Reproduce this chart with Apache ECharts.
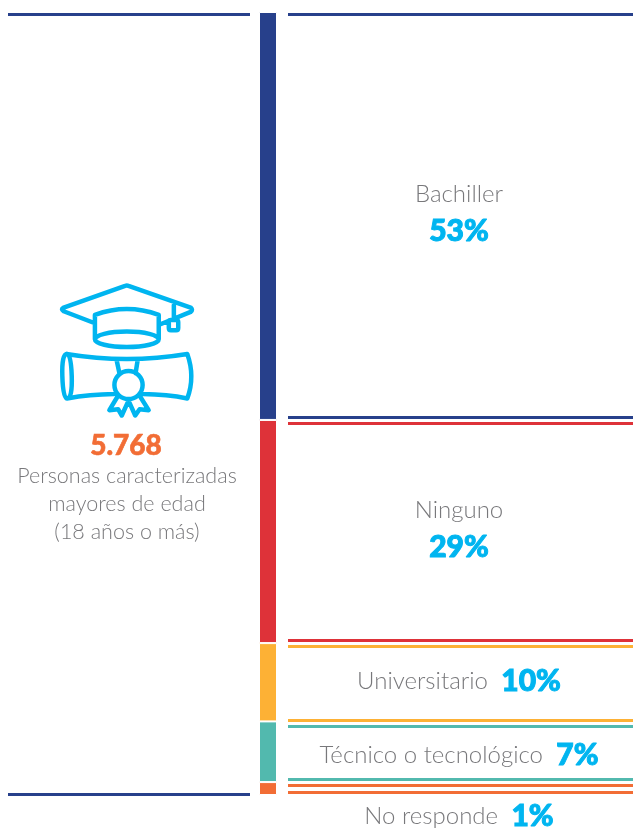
<!DOCTYPE html>
<html>
<head>
<meta charset="utf-8">
<style>
  html, body { margin: 0; padding: 0; background: #fff; }
  #chart { width: 633px; height: 831px; }
</style>
<script src="https://cdn.jsdelivr.net/npm/echarts@6/dist/echarts.min.js"></script>
</head>
<body>
<div id="chart"></div>
<script>
const categories = ['Bachiller', 'Ninguno', 'Universitario', 'Técnico o tecnológico', 'No responde'];
const percents = [53, 29, 10, 7, 1];
// bar lengths as measured on the picture, they differ a little from the printed %
const barLengths = [52.1, 28.5, 10, 7.75, 1.65];
const colors = ['#27408b', '#de3239', '#fdb135', '#52b9ae', '#f26d35'];
const totalLabel = '5.768';
const totalText = ['Personas caracterizadas', 'mayores de edad', '(18 años o más)'];

const CYAN = '#00b5f0';
const GREY = '#78787b';
const FONT = 'Lato';

// start/end of each segment on the stack
const segments = [];
barLengths.reduce((sum, len) => {
  segments.push([sum, sum + len]);
  return sum + len;
}, 0);

const chart = echarts.init(document.getElementById('chart'), null, {renderer: 'canvas'});

const barSeries = categories.map((name, i) => ({
  name,
  type: 'bar',
  stack: 'total',
  barWidth: 18,
  xAxisIndex: 0,
  yAxisIndex: 0,
  itemStyle: {color: colors[i], borderColor: '#fff', borderWidth: 1},
  data: [barLengths[i]],
  silent: true
}));

// a few rules are not quite where the others sit relative to the bar: [top, bottom] in px
const ruleNudge = [[-1, 0], [0, 0], [0, 2], [2, 0], [0, 0]];

// rules on the right, at the two ends of each segment
const ruleSeries = {
  type: 'custom',
  xAxisIndex: 1,
  yAxisIndex: 1,
  silent: true,
  data: segments.map((s, i) => [s[0], s[1], i]),
  renderItem: (params, api) => {
    const idx = api.value(2);
    const top = api.coord([0, api.value(0)])[1];
    const bottom = api.coord([0, api.value(1)])[1];
    const rule = y => ({type: 'rect', shape: {x: 288, y: Math.round(y), width: 345, height: 3}, style: {fill: colors[idx]}});
    return {type: 'group', children: [rule(top + 2 + ruleNudge[idx][0]), rule(bottom - 4 + ruleNudge[idx][1])]};
  }
};

// the two rules on the left, top and bottom of the whole stack
const sideRuleSeries = {
  type: 'custom',
  xAxisIndex: 1,
  yAxisIndex: 1,
  silent: true,
  data: [[0], [100]],
  renderItem: (params, api) => {
    const y = api.coord([0, api.value(0)])[1];
    return {
      type: 'rect',
      shape: {x: 8, y: Math.round(y) + (api.value(0) === 0 ? 1 : -2), width: 242, height: 3},
      style: {fill: colors[0]}
    };
  }
};

const iconPath = 'M165 160L72 124Q62 118 72 113L255 48Q260 46 265 48L450 113Q458 120 450 126L360 163'
  + 'M165 208V135Q260 100 355 135V208'
  + 'M165 208A95 23 0 0 0 355 208A95 23 0 0 0 165 208'
  + 'M400 105V150M391 150H407Q413 150 413 156V174Q413 181 407 181H391Q385 181 385 174V156Q385 150 391 150'
  + 'M80 252Q260 282 440 252Q464 320 440 385Q380 373 308 372M222 372Q150 373 82 385'
  + 'M82 252Q66 252 68 318Q70 385 82 385Q98 385 96 318Q94 252 82 252'
  + 'M230 272L238 310M292 272L286 310'
  + 'M307 345A42 42 0 1 1 223 345A42 42 0 1 1 307 345'
  + 'M232 380L208 420L234 417L245 436L262 398M300 380L325 420L298 417L285 436L268 398';

// the birrete and diploma, graphic has no path element so it goes in a custom series
const iconSeries = {
  type: 'custom',
  xAxisIndex: 1,
  yAxisIndex: 1,
  silent: true,
  data: [[0]],
  renderItem: () => ({
    type: 'path',
    shape: {pathData: iconPath, layout: 'cover', x: 62, y: 285.5, width: 130, height: 130},
    style: {fill: 'none', stroke: CYAN, lineWidth: 4.5, lineJoin: 'round', lineCap: 'round'}
  })
};

const rich = {
  n: {fontFamily: FONT, fontWeight: 300, fontSize: 24, fill: GREY},
  p: {fontFamily: FONT, fontWeight: 900, fontSize: 30, fill: CYAN, stroke: CYAN, lineWidth: 1}
};

const stacked = (i, y) => [
  {type: 'text', x: 459, y, style: {text: categories[i], font: `300 24px ${FONT}`, fill: GREY, align: 'center', verticalAlign: 'middle'}},
  {type: 'text', x: 459, y: y + 37, style: {text: percents[i] + '%', font: `900 30px ${FONT}`, fill: CYAN, stroke: CYAN, lineWidth: 1, align: 'center', verticalAlign: 'middle'}}
];
const inline = (i, y) => ({
  type: 'text', x: 459, y,
  style: {text: `{n|${categories[i]}}    {p|${percents[i]}%}`, rich, align: 'center', verticalAlign: 'middle'}
});

chart.setOption({
  animation: false,
  grid: [
    {left: 259, width: 18, top: 12, height: 783},
    {left: 0, width: 633, top: 12, height: 783}
  ],
  xAxis: [
    {gridIndex: 0, type: 'category', data: ['Nivel'], show: false},
    {gridIndex: 1, type: 'value', min: 0, max: 1, show: false}
  ],
  yAxis: [
    {gridIndex: 0, type: 'value', min: 0, max: 100, inverse: true, show: false},
    {gridIndex: 1, type: 'value', min: 0, max: 100, inverse: true, show: false}
  ],
  series: [...barSeries, ruleSeries, sideRuleSeries, iconSeries],
  graphic: [
    {type: 'text', x: 126, y: 446, style: {text: totalLabel, font: `900 28px ${FONT}`, fill: colors[4], stroke: colors[4], lineWidth: 0.6, align: 'center', verticalAlign: 'middle'}},
    ...totalText.map((t, i) => ({
      type: 'text', x: 127, y: 476 + i * 28,
      style: {text: t, font: `300 21.5px ${FONT}`, fill: GREY, align: 'center', verticalAlign: 'middle'}
    })),
    ...stacked(0, 194),
    ...stacked(1, 510),
    inline(2, 681),
    inline(3, 755),
    inline(4, 816)
  ]
});

window.addEventListener('resize', () => {
  chart.resize();
});
</script>
</body>
</html>
